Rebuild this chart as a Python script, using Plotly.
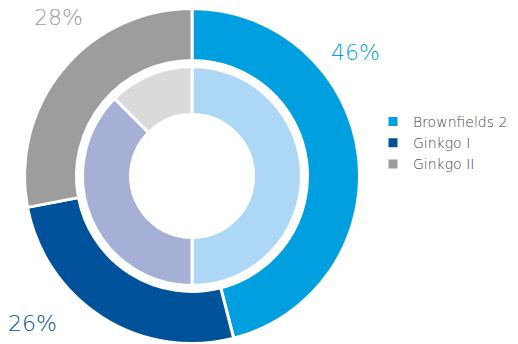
import plotly.graph_objects as go

# Portfolio split: outer ring (share of total) and inner ring breakdown
categories = ["Brownfields 2", "Ginkgo I", "Ginkgo II"]
outer_values = [46, 26, 28]
inner_values = [50, 37.5, 12.5]

outer_colors = ["#009FDF", "#00529A", "#9D9D9D"]
inner_colors = ["#ADD8F5", "#A6AFD5", "#DADADA"]

W, H = 518, 344
cx, cy = 192, 176            # pie centre in pixels (from top-left)
# radii include half of the 3px white slice outline
r_outer, r_outer_hole = 167.5, 115.5
r_inner, r_inner_hole = 109.5, 61.5

FONT = "DejaVu Sans"


def domain(r):
    return dict(
        x=[max(0, (cx - r) / W), min(1, (cx + r) / W)],
        y=[max(0, (H - cy - r) / H), min(1, (H - cy + r) / H)],
    )


fig = go.Figure()

fig.add_trace(go.Pie(
    labels=categories,
    values=outer_values,
    hole=r_outer_hole / r_outer,
    sort=False,
    direction="clockwise",
    rotation=0,
    textinfo="none",
    marker=dict(colors=outer_colors, line=dict(color="white", width=3)),
    domain=domain(r_outer),
    showlegend=True,
))

fig.add_trace(go.Pie(
    labels=categories,
    values=inner_values,
    hole=r_inner_hole / r_inner,
    sort=False,
    direction="clockwise",
    rotation=0,
    textinfo="none",
    marker=dict(colors=inner_colors, line=dict(color="white", width=3)),
    domain=domain(r_inner),
    showlegend=False,
))

# Percentage labels for the outer ring
label_pos = [(355, 52), (32, 323), (58, 18)]
for val, col, (px, py) in zip(outer_values, outer_colors, label_pos):
    fig.add_annotation(
        x=px / W, y=1 - py / H, xref="paper", yref="paper",
        text=f"{val}%", showarrow=False,
        font=dict(family=FONT, size=22, color=col, weight=200),
        xanchor="center", yanchor="middle",
    )

fig.update_layout(
    width=W, height=H,
    margin=dict(l=0, r=0, t=0, b=0),
    paper_bgcolor="white",
    plot_bgcolor="white",
    font=dict(family=FONT, size=14, color="#444444", weight=200),
    legend=dict(
        x=373 / W, y=1 - 106 / H, xanchor="left", yanchor="top",
        font=dict(family=FONT, size=14, color="#444444", weight=200),
        tracegroupgap=0, itemwidth=30,
        bgcolor="rgba(0,0,0,0)",
    ),
)

fig.write_html("out.html")
